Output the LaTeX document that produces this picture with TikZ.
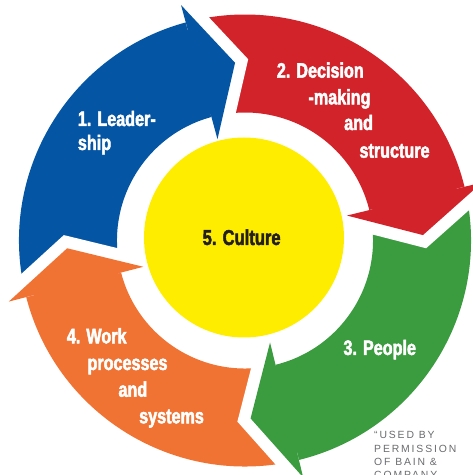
\documentclass[tikz,border=0pt]{standalone}
\usepackage{fontspec}
\setmainfont{Liberation Sans}
% condensed heavy face for the step labels
\newfontfamily\lblfont{Liberation Sans}[FakeStretch=0.77,BoldFeatures={FakeBold=2.2}]
% tracked face for the credit line
\newfontfamily\notefont{Liberation Sans}[LetterSpace=18]

\definecolor{cblue}{HTML}{0455A4}
\definecolor{cred}{HTML}{D2232A}
\definecolor{cgreen}{HTML}{3A9B3F}
\definecolor{corange}{HTML}{F07333}
\definecolor{cyellow}{HTML}{FFED00}
\definecolor{cink}{HTML}{231F20}
\definecolor{cnote}{HTML}{6A6B6E}

\tikzset{
  gapline/.style={draw=white, line width=24pt, line join=miter},
  steplabel/.style={anchor=base west, inner sep=0pt, text=white,
    font=\lblfont\bfseries\fontsize{21}{25}\selectfont},
  corelabel/.style={anchor=base west, inner sep=0pt, text=cink,
    font=\lblfont\bfseries\fontsize{21.5}{25}\selectfont},
  notelabel/.style={anchor=base west, inner sep=0pt, text=cnote,
    font=\notefont\fontsize{10.4}{12}\selectfont},
  corecircle/.style={circle, fill=cyellow, minimum size=200pt, inner sep=0pt}
}

\begin{document}
\begin{tikzpicture}[x=1pt,y=1pt]
\useasboundingbox (0,0) rectangle (473,475);
\clip (0,0) rectangle (473,475);

% ring of four curved arrows, flowing clockwise
\begin{scope}[shift={(245,234.5)}]
  % arrow bodies: annular sectors, each running into its own head
  \foreach \a/\b/\c in {193.5/104.2/cblue, 104.2/12.75/cred,
                        12.75/-77.2/cgreen, 282.8/193.5/corange}
    \fill[\c] (\a:226) arc[start angle=\a, end angle=\b, radius=226]
      -- (\b:128) arc[start angle=\b, end angle=\a, radius=128] -- cycle;
  % arrow heads; a white band along the front edges cuts the notch
  % into the tail of the following arrow
  \foreach \t/\c in {93.2/cblue, 1.75/cred, -88.2/cgreen, 182.5/corange} {
    \pgfmathsetmacro\bb{\t+12}
    \begin{scope}
      \clip (0,0) -- (\bb:330) arc[start angle=\bb, end angle=\bb-70, radius=330] -- cycle;
      \draw[gapline] (\bb:244) -- (\t:178) -- (\bb:105);
    \end{scope}
    \fill[\c] (\bb:244) -- (\t:178) -- (\bb:105) -- cycle;
  }
\end{scope}

% centre disc
\node[corecircle] (core) at (244,237.5) {};
\node[corelabel] (culture) at (202.5,230) {5. Culture};

% step labels
\node[steplabel] (lead1) at (77.7,349) {1. Leader-};
\node[steplabel] (lead2) at (77.7,325) {ship};

\node[steplabel] (dec1) at (276.7,397.3) {2. Decision};
\node[steplabel] (dec2) at (308.3,370.7) {-making};
\node[steplabel] (dec3) at (344,345) {and};
\node[steplabel] (dec4) at (359.3,317.3) {structure};

\node[steplabel] (people) at (343.3,120) {3. People};

\node[steplabel] (work1) at (66.7,131.7) {4. Work};
\node[steplabel] (work2) at (87.3,105) {processes};
\node[steplabel] (work3) at (118.3,78.3) {and};
\node[steplabel] (work4) at (139,51.7) {systems};

% credit line, running off the lower edge
\node[notelabel] (note1) at (374,36.3) {“USED BY};
\node[notelabel] (note2) at (374,23) {PERMISSION};
\node[notelabel] (note3) at (374,9.7) {OF BAIN \&};
\node[notelabel] (note4) at (374,-3.7) {COMPANY};
\end{tikzpicture}
\end{document}
